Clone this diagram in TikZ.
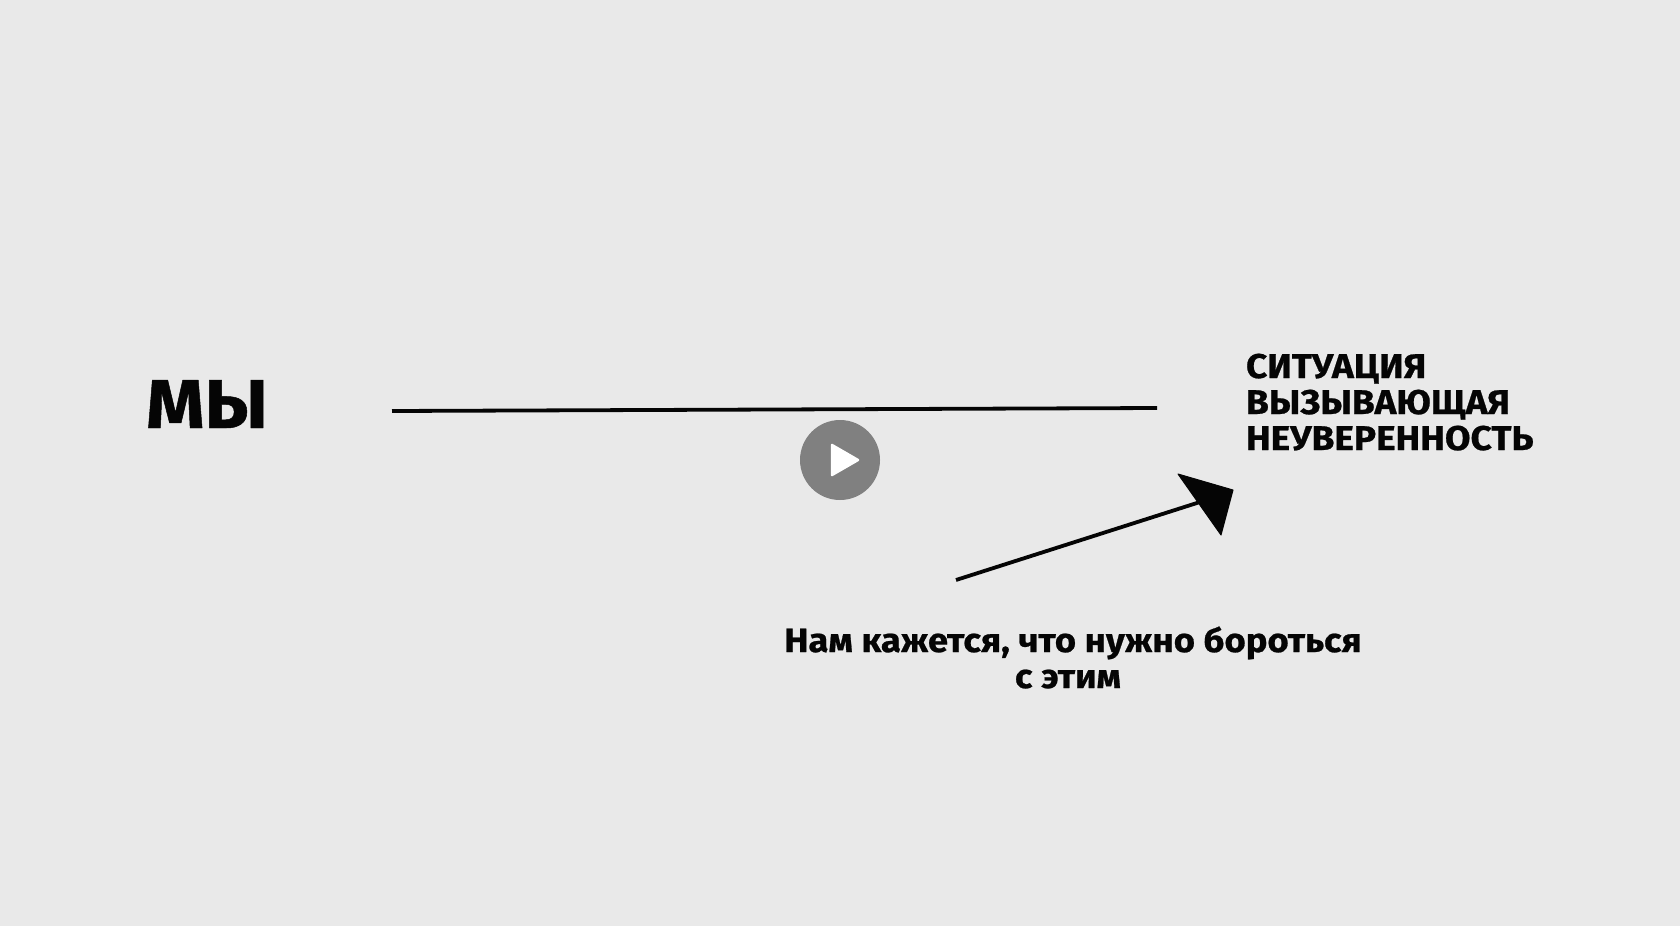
\documentclass[tikz,border=0pt]{standalone}
\usepackage{fontspec}
\setmainfont{Fira Sans}[BoldFont=* Bold,BoldFeatures={FakeStretch=1.08,FakeBold=0.7}]
\definecolor{bgc}{HTML}{E9E9E9}
\definecolor{ink}{HTML}{050505}
\definecolor{playc}{HTML}{808080}
\tikzset{
  lbl/.style={inner sep=0pt,outer sep=0pt,text=ink,font=\bfseries},
  stroke/.style={draw=ink,line width=3.8pt,line cap=butt}
}
\begin{document}
\begin{tikzpicture}[x=1pt,y=-1pt]
\path[fill=bgc,use as bounding box] (0,0) rectangle (1680,926);
\node[lbl,anchor=base west,font=\bfseries\fontsize{69}{69}\selectfont] (my) at (146,428) {МЫ};
\node[lbl,anchor=base west,font=\bfseries\fontsize{34.3}{36}\selectfont] (s1) at (1246,378) {СИТУАЦИЯ};
\node[lbl,anchor=base west,font=\bfseries\fontsize{34.3}{36}\selectfont] (s2) at (1246,414) {ВЫЗЫВАЮЩАЯ};
\node[lbl,anchor=base west,font=\bfseries\fontsize{34.3}{36}\selectfont] (s3) at (1246,450) {НЕУВЕРЕННОСТЬ};
\node[lbl,anchor=base,font=\bfseries\fontsize{33.7}{36}\selectfont] (t1) at (1073,652) {Нам кажется, что нужно бороться};
\node[lbl,anchor=base,font=\bfseries\fontsize{33.7}{36}\selectfont] (t2) at (1068,688) {с этим};
\coordinate (la) at (392,411);
\coordinate (lb) at (1157,408);
\draw[stroke] (la) -- (lb);
\coordinate (aa) at (956,580);
\coordinate (ab) at (1200,502);
\draw[stroke] (aa) -- (ab);
\fill[ink,draw=ink,line width=1pt,line join=round] (1178,474) -- (1233,490) -- (1221,535) -- cycle;
\node[circle,fill=playc,minimum size=80pt,inner sep=0pt] (play) at (840,460) {};
\fill[white,draw=white,line width=2.5pt,line join=round] (832,445) -- (858,460) -- (832,475) -- cycle;
\end{tikzpicture}
\end{document}
